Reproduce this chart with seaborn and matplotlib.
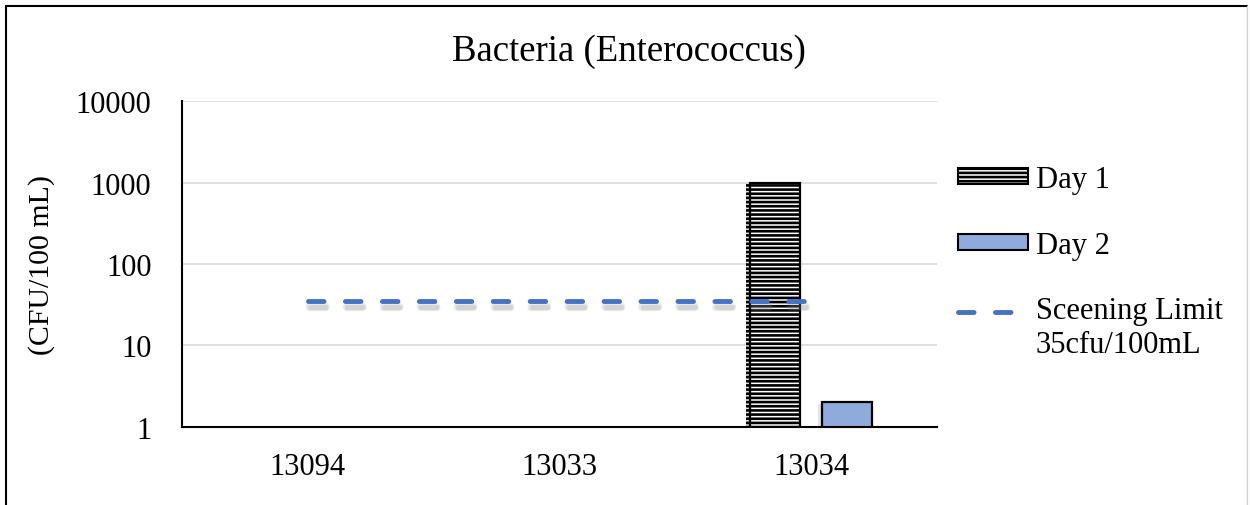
import numpy as np
import pandas as pd
import seaborn as sns
import matplotlib.pyplot as plt
import matplotlib.patheffects as pe
from matplotlib.patches import Patch
from matplotlib.lines import Line2D
from matplotlib.legend_handler import HandlerLine2D
from matplotlib.ticker import FixedLocator

# data
sites = ["13094", "13033", "13034"]
day1 = [np.nan, np.nan, 1000]
day2 = [np.nan, np.nan, 2]
limit = [35, 35, 35]
limit_label = "Sceening Limit\n35cfu/100mL"
ytick_vals = [1, 10, 100, 1000, 10000]

df = pd.DataFrame({
    "Site": sites * 2,
    "Day": ["Day 1"] * len(sites) + ["Day 2"] * len(sites),
    "Value": day1 + day2,
})


class HandlerTopLine(HandlerLine2D):
    """Legend line handle aligned with the first line of a two-line label."""

    def create_artists(self, legend, orig_handle, xdescent, ydescent, width,
                       height, fontsize, trans):
        artists = super().create_artists(legend, orig_handle, xdescent, ydescent,
                                         width, height, fontsize, trans)
        for a in artists:
            a.set_ydata(np.asarray(a.get_ydata()) + 0.55 * fontsize)
        return artists


sns.set_style("white")
plt.rcParams["font.family"] = ["Liberation Serif", "DejaVu Serif"]
plt.rcParams["text.color"] = "black"
plt.rcParams["xtick.color"] = "black"
plt.rcParams["ytick.color"] = "black"
plt.rcParams["hatch.linewidth"] = 1.9

fig = plt.figure(figsize=(12.5, 5.06), dpi=100)
ax = fig.add_axes([0.1456, 0.1542, 0.604, 0.6442])
ax.set_yscale("log")

colors = {"Day 1": "white", "Day 2": "#8FAADC"}
sns.barplot(
    data=df, x="Site", y="Value", hue="Day", order=sites,
    hue_order=["Day 1", "Day 2"], palette=colors, width=0.57, gap=0.3,
    edgecolor="black", linewidth=1.6, saturation=1, legend=False, ax=ax,
)

hatches = {"Day 1": "----", "Day 2": ""}
for cont, day in zip(ax.containers, ["Day 1", "Day 2"]):
    for bar in cont:
        bar.set_hatch(hatches[day])
        bar.set_path_effects([
            pe.SimplePatchShadow(offset=(-3, -1), shadow_rgbFace="gray", alpha=0.2),
            pe.Normal(),
        ])

ax.plot(
    range(len(sites)), limit, color="#4472C4", lw=3.5,
    dashes=(3.2, 4.4), dash_capstyle="round", zorder=5,
    path_effects=[pe.SimpleLineShadow(offset=(1.5, -4), shadow_color="gray",
                                      alpha=0.18, linewidth=6),
                  pe.SimpleLineShadow(offset=(1.5, -4), shadow_color="gray",
                                      alpha=0.2),
                  pe.Normal()],
)

ax.set_ylim(1, 10000)
ax.set_xlim(-0.5, 2.5)
ax.set_yticks(ytick_vals)
ax.set_yticklabels([str(v) for v in ytick_vals])
ax.yaxis.set_minor_locator(FixedLocator([]))
ax.grid(axis="y", color="#D9D9D9", lw=1.2)
ax.set_axisbelow(True)

ax.xaxis.set_minor_locator(FixedLocator([0.5, 1.5]))
ax.tick_params(axis="x", which="major", direction="inout", length=8, width=1.3,
               labelsize=22, pad=14)
ax.tick_params(axis="x", which="minor", direction="in", length=5, width=1.3)
ax.tick_params(axis="y", length=0, labelsize=22, pad=22)
ax.set_xlabel("")
ax.set_ylabel("")

for side in ["top", "right"]:
    ax.spines[side].set_visible(False)
for side in ["left", "bottom"]:
    ax.spines[side].set_color("black")
    ax.spines[side].set_linewidth(1.5)

fig.text(0.503, 1 - 52 / 506, "Bacteria (Enterococcus)", ha="center", va="center",
         fontsize=26.5)
fig.text(42 / 1250, 1 - 265 / 506, "(CFU/100 mL)", rotation=90, ha="center",
         va="center", fontsize=21.5)

limit_handle = Line2D([0], [0], color="#4472C4", lw=3.5, dashes=(3.2, 4.4),
                      dash_capstyle="round")
handles = [
    Patch(facecolor="white", edgecolor="black", hatch="----", lw=1.5),
    Patch(facecolor="#8FAADC", edgecolor="black", lw=1.5),
    limit_handle,
]
fig.legend(handles, ["Day 1", "Day 2", limit_label], loc="upper left",
           bbox_to_anchor=(958 / 1250, 1 - 166 / 506), frameon=False,
           fontsize=22, borderpad=0, borderaxespad=0, handlelength=2.3,
           handleheight=0.45, handletextpad=0.25, labelspacing=1.2,
           handler_map={limit_handle: HandlerTopLine()})

# outer chart border
fig.add_artist(Line2D([6 / 1250, 6 / 1250], [0, 1 - 7 / 506], color="black",
                      lw=1.5, transform=fig.transFigure))
fig.add_artist(Line2D([6 / 1250, 1247 / 1250], [1 - 7 / 506, 1 - 7 / 506],
                      color="black", lw=1.5, transform=fig.transFigure))
fig.add_artist(Line2D([1247 / 1250, 1247 / 1250], [0, 1 - 7 / 506],
                      color="#D0D0D0", lw=1, transform=fig.transFigure))

fig.savefig("out.png", dpi=100)
